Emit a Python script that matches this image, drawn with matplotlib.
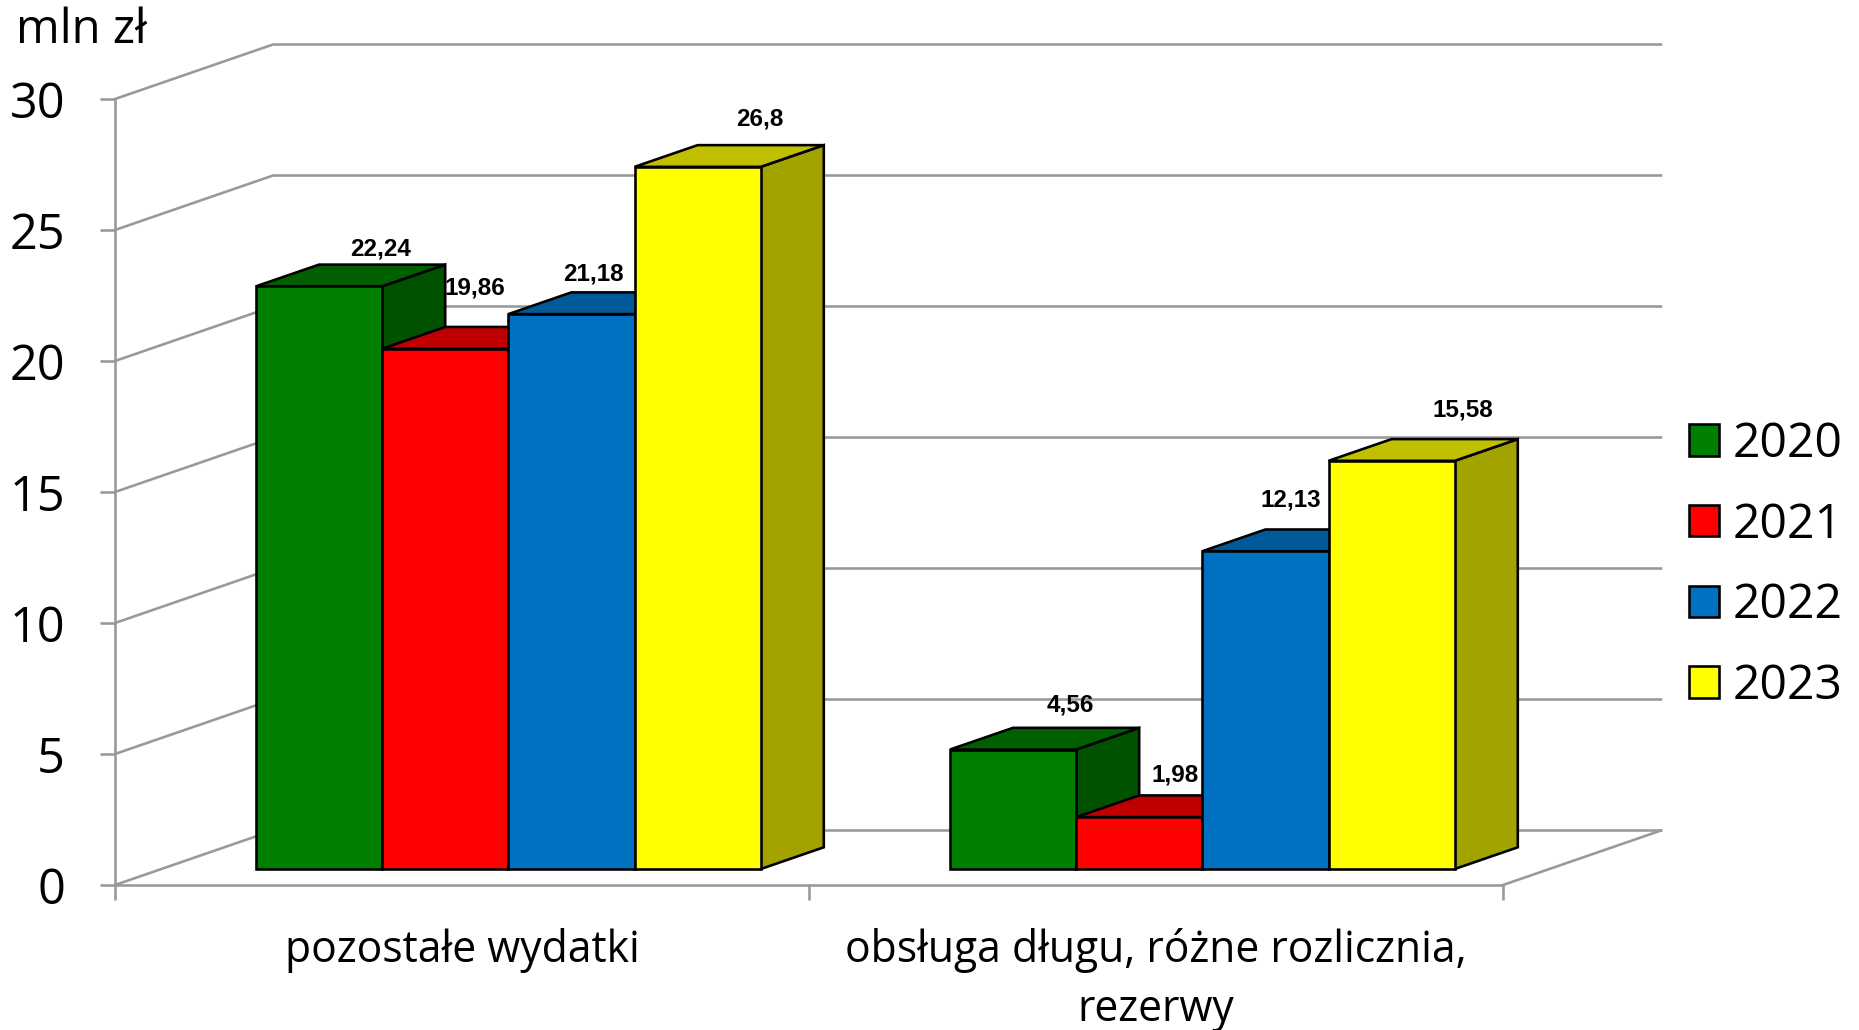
import matplotlib
matplotlib.use("Agg")
import matplotlib.pyplot as plt
from matplotlib.patches import Patch, Polygon

categories = ["pozostałe wydatki", "obsługa długu, różne rozlicznia,\nrezerwy"]
years = ["2020", "2021", "2022", "2023"]
v2020 = [22.24, 4.56]
v2021 = [19.86, 1.98]
v2022 = [21.18, 12.13]
v2023 = [26.8, 15.58]
labels2020 = ["22,24", "4,56"]
labels2021 = ["19,86", "1,98"]
labels2022 = ["21,18", "12,13"]
labels2023 = ["26,8", "15,58"]
yticks = [0, 5, 10, 15, 20, 25, 30]

W, H = 1859, 1030
L, R, T, B = 115, 1503, 99, 885      # plot box in pixels
PX = 72 / 100                        # points per pixel at dpi 100

front = ["#008000", "#FF0000", "#0070C0", "#FFFF00"]
top = ["#006000", "#C00000", "#005A9A", "#C0C000"]
side = ["#005200", "#A30000", "#004A7F", "#A3A300"]
GRID = "#999999"
LW = 2.6 * PX

fig = plt.figure(figsize=(W / 100, H / 100), dpi=100)
ax = fig.add_axes([L / W, 1 - B / H, (R - L) / W, (B - T) / H])
ax.set_xlim(0, 2)
ax.set_ylim(0, 30)
ux = (R - L) / 2      # px per category
uy = (B - T) / 30     # px per value unit

wall_dx, wall_dy = 158 / ux, 54.5 / uy
bar_dx, bar_dy = 63 / ux, 21.7 / uy
bar_w = 126.2 / ux
group_start = 141 / ux     # left edge of first bar in each group
base = 16 / uy             # bar base sits forward of the wall on the floor

# walls and floor
for y in yticks:
    ax.plot([0, wall_dx, 2 + wall_dx], [y, y + wall_dy, y + wall_dy],
            color=GRID, lw=LW, clip_on=False, zorder=1, solid_joinstyle="miter")
ax.plot([2, 2 + wall_dx], [0, wall_dy], color=GRID, lw=LW, clip_on=False, zorder=1)

for s in ("top", "right"):
    ax.spines[s].set_visible(False)
for s in ("left", "bottom"):
    ax.spines[s].set_color(GRID)
    ax.spines[s].set_linewidth(LW)
    ax.spines[s].set_zorder(1)

font = "Open Sans"
ax.set_yticks(yticks)
ax.set_yticklabels([str(y) for y in yticks], fontsize=35, family=font)
ax.tick_params(axis="y", length=15 * PX, width=LW, color=GRID, pad=35 * PX)
ax.set_xticks([0, 1, 2])
ax.set_xticklabels([])
ax.tick_params(axis="x", which="major", length=15 * PX, width=LW, color=GRID)
ax.set_xticks([0.5, 1.5], minor=True)
ax.set_xticklabels(categories, minor=True, fontsize=30.7, family=font, linespacing=1.44)
ax.tick_params(axis="x", which="minor", length=0, pad=43 * PX)

series = [v2020, v2021, v2022, v2023]
texts = [labels2020, labels2021, labels2022, labels2023]
# hand placement of value labels: px offset from bar's front-top centre, per group
label_dx = [[61, 30, 22, 62], [57, 36, 25, 71]]
label_dy = [[37, 61, 40, 48], [45, 42, 51, 51]]

z = 2
edge = dict(edgecolor="black", linewidth=LW, clip_on=False, joinstyle="miter")
for g in range(2):
    for s, vals in enumerate(series):
        v = vals[g]
        x0 = g + group_start + s * bar_w
        x1 = x0 + bar_w
        y1 = base + v
        ax.add_patch(Polygon([(x1, base), (x1 + bar_dx, base + bar_dy),
                              (x1 + bar_dx, y1 + bar_dy), (x1, y1)],
                             facecolor=side[s], zorder=z, **edge))
        ax.add_patch(Polygon([(x0, y1), (x1, y1), (x1 + bar_dx, y1 + bar_dy),
                              (x0 + bar_dx, y1 + bar_dy)],
                             facecolor=top[s], zorder=z + 0.1, **edge))
        ax.bar(x0, v, width=bar_w, bottom=base, align="edge", color=front[s],
               zorder=z + 0.2, **edge)
        z += 1

for g in range(2):
    for s, vals in enumerate(series):
        xc = g + group_start + (s + 0.5) * bar_w
        ax.annotate(texts[s][g], (xc, base + vals[g]),
                    xytext=(label_dx[g][s] * PX, label_dy[g][s] * PX),
                    textcoords="offset points", ha="center", va="center",
                    fontsize=17.5, fontweight="bold", family="Liberation Sans",
                    zorder=50, annotation_clip=False)

handles = [Patch(facecolor=c, edgecolor="black", linewidth=LW, label=y)
           for c, y in zip(front, years)]
fs = 34.6
em = fs / PX
fig.legend(handles=handles, loc="upper left",
           bbox_to_anchor=(1689 / W, 1 - 420.5 / H),
           frameon=False, prop={"family": font, "size": fs},
           handlelength=30 / em, handleheight=30 / em,
           handletextpad=14 / em, labelspacing=0.69,
           borderpad=0, borderaxespad=0)

fig.text(16 / W, 1 - 30 / H, "mln zł", fontsize=34, family=font, ha="left", va="center")

fig.savefig("out.png", dpi=100)
